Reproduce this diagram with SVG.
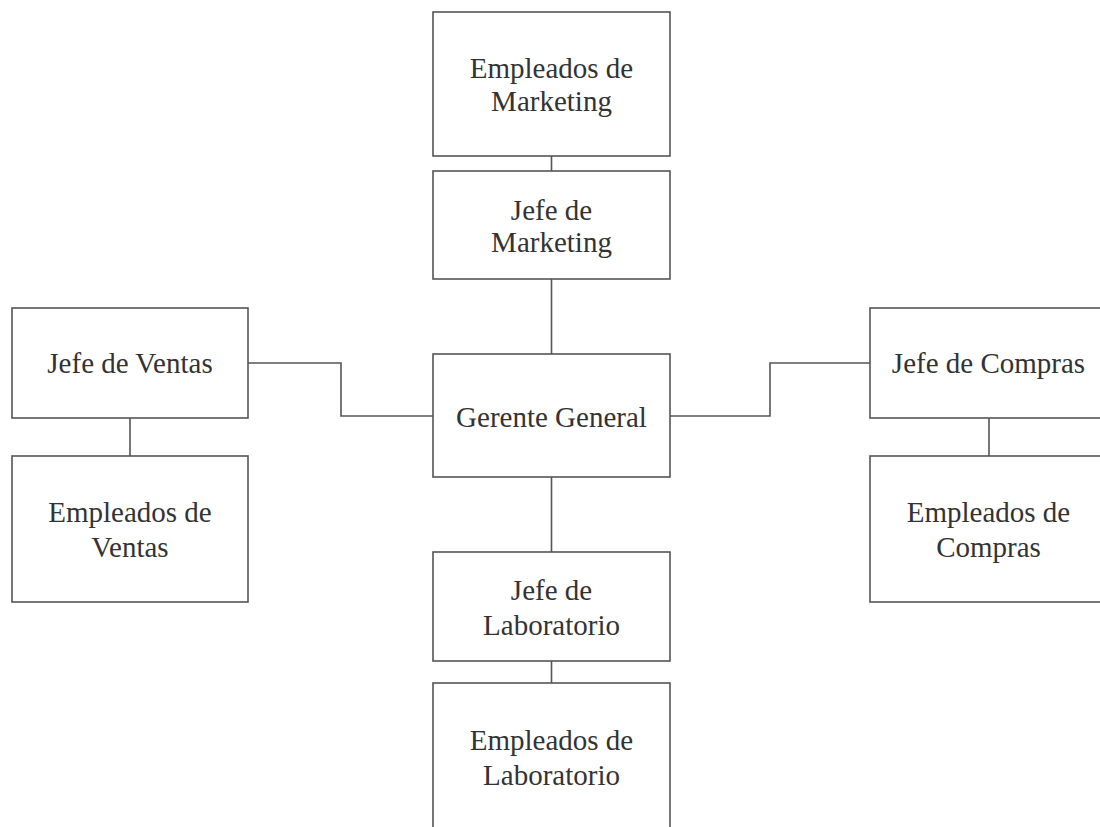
<svg xmlns="http://www.w3.org/2000/svg" width="1100" height="827" viewBox="0 0 1100 827">
<style>
.box{fill:#fff;stroke:#555;stroke-width:1.6}
.lbl{font-family:"Liberation Serif","Times New Roman",serif;font-size:29px;fill:#333;text-anchor:middle}
.con{fill:none;stroke:#555;stroke-width:1.6}
</style>
<rect width="1100" height="827" fill="#fff"/>
<g id="connectors">
<line class="con" x1="551.5" y1="156" x2="551.5" y2="171"/>
<line class="con" x1="551.5" y1="279" x2="551.5" y2="354"/>
<line class="con" x1="551.5" y1="477" x2="551.5" y2="552"/>
<line class="con" x1="551.5" y1="661" x2="551.5" y2="683"/>
<polyline class="con" points="248,363 341,363 341,416 433,416"/>
<polyline class="con" points="670,416 770,416 770,363 870,363"/>
<line class="con" x1="130" y1="418" x2="130" y2="456"/>
<line class="con" x1="989" y1="418" x2="989" y2="456"/>
</g>
<g id="emp-marketing">
<rect class="box" x="433" y="12" width="237" height="144"/>
<text class="lbl" x="551.5" y="78">Empleados de</text>
<text class="lbl" x="551.5" y="111">Marketing</text>
</g>
<g id="jefe-marketing">
<rect class="box" x="433" y="171" width="237" height="108"/>
<text class="lbl" x="551.5" y="220">Jefe de</text>
<text class="lbl" x="551.5" y="252">Marketing</text>
</g>
<g id="gerente">
<rect class="box" x="433" y="354" width="237" height="123"/>
<text class="lbl" x="551.5" y="427">Gerente General</text>
</g>
<g id="jefe-lab">
<rect class="box" x="433" y="552" width="237" height="109"/>
<text class="lbl" x="551.5" y="600">Jefe de</text>
<text class="lbl" x="551.5" y="635">Laboratorio</text>
</g>
<g id="emp-lab">
<rect class="box" x="433" y="683" width="237" height="160"/>
<text class="lbl" x="551.5" y="750">Empleados de</text>
<text class="lbl" x="551.5" y="785">Laboratorio</text>
</g>
<g id="jefe-ventas">
<rect class="box" x="12" y="308" width="236" height="110"/>
<text class="lbl" x="130" y="373">Jefe de Ventas</text>
</g>
<g id="emp-ventas">
<rect class="box" x="12" y="456" width="236" height="146"/>
<text class="lbl" x="130" y="522">Empleados de</text>
<text class="lbl" x="130" y="557">Ventas</text>
</g>
<g id="jefe-compras">
<rect class="box" x="870" y="308" width="237" height="110"/>
<text class="lbl" x="988.5" y="373">Jefe de Compras</text>
</g>
<g id="emp-compras">
<rect class="box" x="870" y="456" width="237" height="146"/>
<text class="lbl" x="988.5" y="522">Empleados de</text>
<text class="lbl" x="988.5" y="557">Compras</text>
</g>
</svg>
